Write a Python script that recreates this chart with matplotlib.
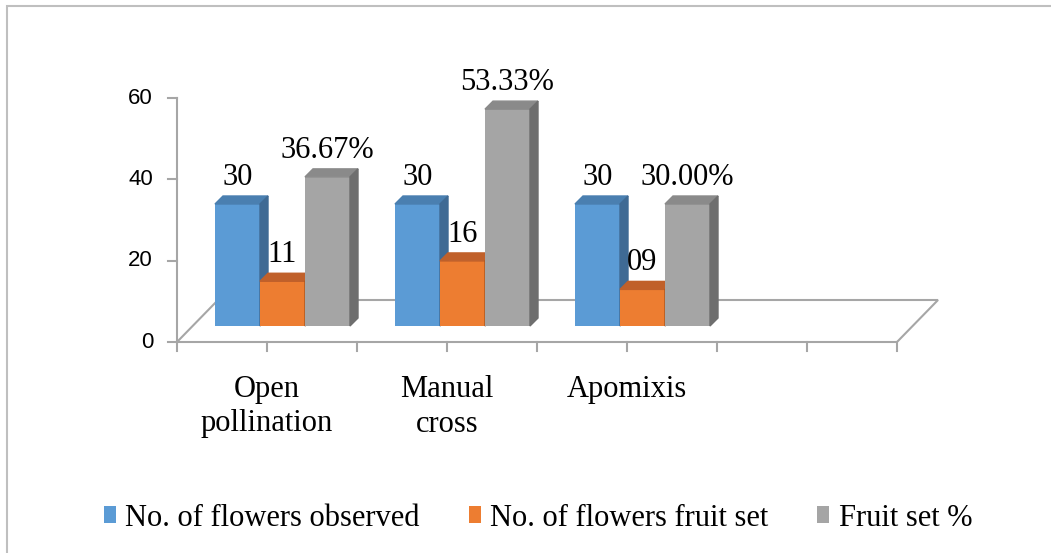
import matplotlib.pyplot as plt
from matplotlib.patches import Polygon, Rectangle, Patch

# data
categories = ['Open\npollination', 'Manual\ncross', 'Apomixis', '']
series_names = ['No. of flowers observed', 'No. of flowers fruit set', 'Fruit set %']
observed = [30, 30, 30]
fruit_set = [11, 16, 9]
fruit_pct = [36.67, 53.33, 30.00]
observed_labels = ['30', '30', '30']
fruit_set_labels = ['11', '16', '09']
pct_labels = ['36.67%', '53.33%', '30.00%']

values = [observed, fruit_set, fruit_pct]
labels = [observed_labels, fruit_set_labels, pct_labels]

front = ['#5B9BD5', '#ED7D31', '#A5A5A5']
top = ['#4A7FB0', '#C0602A', '#8A8A8A']
side = ['#3F6A94', '#A9561F', '#6E6E6E']

W, H = 1051, 553
fig = plt.figure(figsize=(W / 100, H / 100), dpi=100)

# axes placed in pixels: y=0 at 342 px, y=60 at 98 px, x from 177 px
px_per_cat = 180.0
ax_left, ax_right = 177, 950
ax = fig.add_axes([ax_left / W, (H - 342) / H, (ax_right - ax_left) / W, (342 - 98) / H])
ax.set_xlim(-0.5, -0.5 + (ax_right - ax_left) / px_per_cat)
ax.set_ylim(0, 60)
ax.axis('off')

upx = 60 / 244.0  # value units per pixel
fdx, fdy = 41 / px_per_cat, 42 * upx      # floor depth
bx, by = 15.5 / px_per_cat, 16 * upx       # bar front offset
dx, dy = 8 / px_per_cat, 8 * upx           # bar depth
bw = 0.25
grid = '#A6A6A6'
serif = 'Liberation Serif'
fs = 22

n = len(categories)
# floor
floor = Polygon([(-0.5, 0), (n - 0.5, 0), (n - 0.5 + fdx, fdy), (-0.5 + fdx, fdy)],
                closed=True, facecolor='white', edgecolor=grid, lw=1.5, zorder=1, clip_on=False)
ax.add_patch(floor)

# value axis
ax.plot([-0.5, -0.5], [0, 60], color=grid, lw=1.5, zorder=2, clip_on=False)
for t in [0, 20, 40, 60]:
    ax.plot([-0.5 - 9 / px_per_cat, -0.5], [t, t], color=grid, lw=1.5, clip_on=False)
    ax.text(-0.5 - 24 / px_per_cat, t, str(t), ha='right', va='center',
            fontsize=16, family='Liberation Sans', color='black')

# category ticks
for k in range(2 * n + 1):
    xt = -0.5 + k * 0.5
    ax.plot([xt, xt], [0, -9 * upx], color=grid, lw=1.5, clip_on=False)

for i, c in enumerate(categories):
    ax.text(i, -33 * upx, c, ha='center', va='top', fontsize=fs, family=serif,
            linespacing=1.25, clip_on=False)

# bars
for j in range(3):
    for i, v in enumerate(values[j]):
        left = i - 0.375 + j * bw + bx
        ax.bar(left, v, width=bw, bottom=by, align='edge', color=front[j], zorder=3 + j)
        ax.add_patch(Polygon([(left, by + v), (left + bw, by + v), (left + bw + dx, by + v + dy),
                              (left + dx, by + v + dy)], closed=True, color=top[j], zorder=3 + j))
        ax.add_patch(Polygon([(left + bw, by), (left + bw + dx, by + dy), (left + bw + dx, by + v + dy),
                              (left + bw, by + v)], closed=True, color=side[j], zorder=3 + j))
        ax.text(left + bw / 2, by + v + 19 * upx, labels[j][i], ha='center', va='baseline',
                fontsize=fs, family=serif, zorder=10, clip_on=False)

handles = [Patch(facecolor=front[j], edgecolor='none') for j in range(3)]
fig.legend(handles, series_names, loc='center', bbox_to_anchor=(538 / W, (H - 518) / H),
           ncol=3, frameon=False, prop={'family': serif, 'size': fs},
           handlelength=0.4, handleheight=0.5, handletextpad=0.3, columnspacing=1.6)

# chart border (only left and top are inside the picture)
fig.patches.append(Rectangle((7 / W, -0.1), 1.2, (H - 5.5) / H + 0.1, transform=fig.transFigure,
                             fill=False, edgecolor='#BFBFBF', lw=1.5))

fig.savefig('out.png', dpi=100)
